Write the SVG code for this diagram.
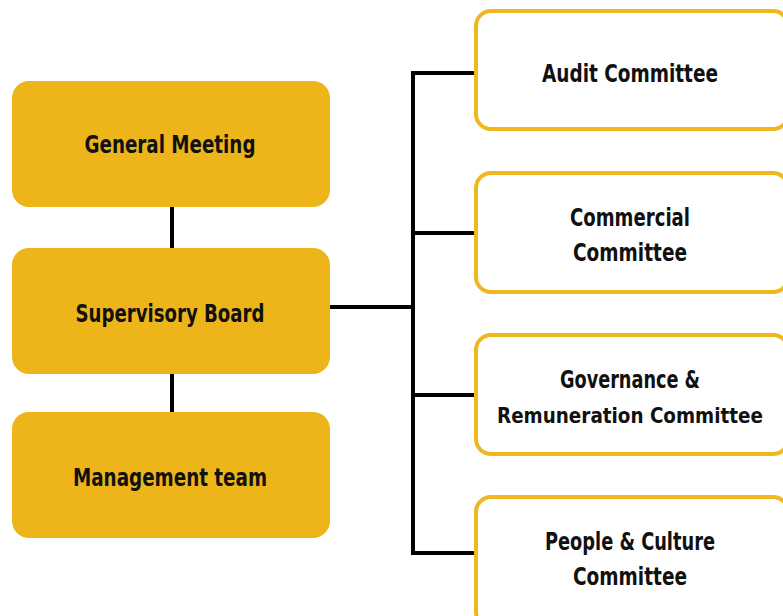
<svg xmlns="http://www.w3.org/2000/svg" width="783" height="616" viewBox="0 0 783 616">
  <style>
    .main { fill: #EEB51A; }
    .committee { fill: #FFFFFF; stroke: #F0B81C; stroke-width: 4; }
    .label { font-family: "DejaVu Sans Condensed", "DejaVu Sans", sans-serif; font-stretch: condensed; font-weight: bold; font-size: 25px; fill: #111111; text-anchor: middle; }
    .small { font-size: 22px; }
    .link { fill: none; stroke: #000000; stroke-width: 4; stroke-linecap: square; stroke-linejoin: miter; }
  </style>
  <rect width="783" height="616" fill="#FFFFFF"/>

  <!-- connectors -->
  <g id="connectors">
    <line class="link" x1="172" y1="207" x2="172" y2="248"/>
    <line class="link" x1="172" y1="374" x2="172" y2="412"/>
    <line class="link" x1="330" y1="307" x2="413" y2="307"/>
    <line class="link" x1="413" y1="73" x2="413" y2="553"/>
    <line class="link" x1="413" y1="73" x2="474" y2="73"/>
    <line class="link" x1="413" y1="233" x2="474" y2="233"/>
    <line class="link" x1="413" y1="395" x2="474" y2="395"/>
    <line class="link" x1="413" y1="553" x2="474" y2="553"/>
  </g>

  <!-- governing bodies -->
  <g id="general-meeting">
    <rect class="main" x="12" y="81" width="318" height="126" rx="17"/>
    <text class="label" x="170" y="153" textLength="171" lengthAdjust="spacingAndGlyphs">General Meeting</text>
  </g>
  <g id="supervisory-board">
    <rect class="main" x="12" y="248" width="318" height="126" rx="17"/>
    <text class="label" x="170" y="322" textLength="189" lengthAdjust="spacingAndGlyphs">Supervisory Board</text>
  </g>
  <g id="management-team">
    <rect class="main" x="12" y="412" width="318" height="126" rx="17"/>
    <text class="label" x="170" y="486" textLength="194" lengthAdjust="spacingAndGlyphs">Management team</text>
  </g>

  <!-- committees -->
  <g id="audit-committee">
    <rect class="committee" x="476" y="11" width="312" height="118" rx="15"/>
    <text class="label" x="630" y="82" textLength="176" lengthAdjust="spacingAndGlyphs">Audit Committee</text>
  </g>
  <g id="commercial-committee">
    <rect class="committee" x="476" y="173" width="312" height="119" rx="15"/>
    <text class="label" x="630" y="226" textLength="120" lengthAdjust="spacingAndGlyphs">Commercial</text>
    <text class="label" x="630" y="261" textLength="114" lengthAdjust="spacingAndGlyphs">Committee</text>
  </g>
  <g id="governance-committee">
    <rect class="committee" x="476" y="335" width="312" height="119" rx="15"/>
    <text class="label" x="630" y="388" textLength="140" lengthAdjust="spacingAndGlyphs">Governance &amp;</text>
    <text class="label small" x="630" y="423" textLength="266" lengthAdjust="spacingAndGlyphs">Remuneration Committee</text>
  </g>
  <g id="people-culture-committee">
    <rect class="committee" x="476" y="497" width="312" height="130" rx="15"/>
    <text class="label" x="630" y="550" textLength="170" lengthAdjust="spacingAndGlyphs">People &amp; Culture</text>
    <text class="label" x="630" y="585" textLength="114" lengthAdjust="spacingAndGlyphs">Committee</text>
  </g>
</svg>
